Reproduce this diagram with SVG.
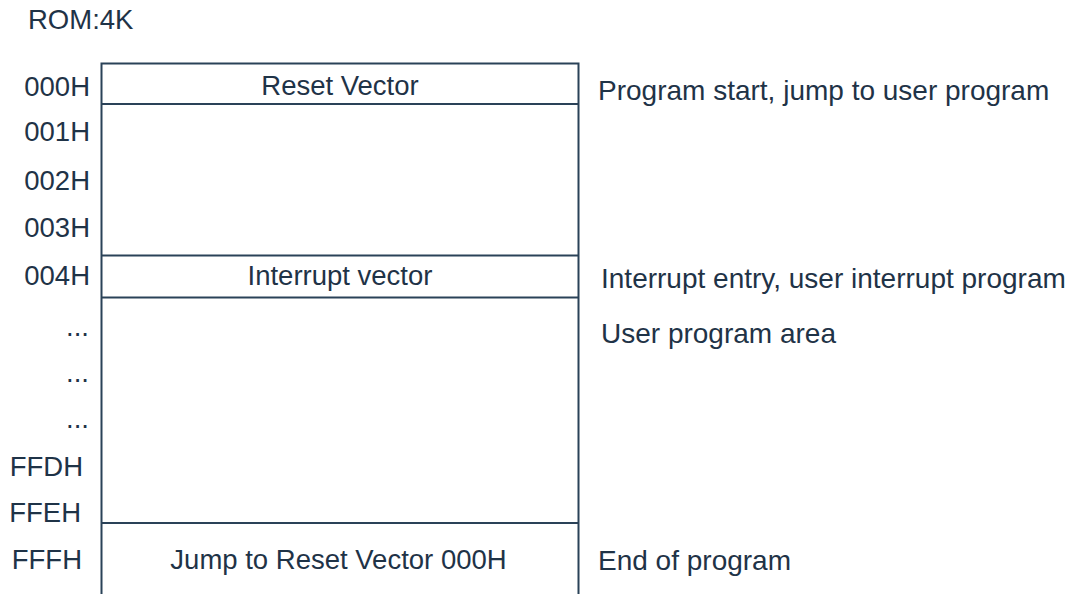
<svg xmlns="http://www.w3.org/2000/svg" width="1079" height="594" viewBox="0 0 1079 594">
<style>
text{font-family:"Liberation Sans",Arial,sans-serif;fill:#1f3347;font-size:27.5px}
.a{text-anchor:end}
.m{text-anchor:middle}
.n{font-size:28px}
.ln{stroke:#2a4258;stroke-width:2;fill:none}
</style>
<rect width="1079" height="594" fill="#fff"/>
<text x="28" y="29" style="font-size:27.5px">ROM:4K</text>
<g id="connectors">
<path class="ln" d="M101.5 594 V63.5 H578.5 V594"/>
<path class="ln" d="M101.5 104 H578.5 M101.5 255.5 H578.5 M101.5 297.5 H578.5 M101.5 523 H578.5"/>
</g>
<g id="addresses">
<text class="a" x="90" y="95.5">000H</text>
<text class="a" x="90" y="140.5">001H</text>
<text class="a" x="90" y="190">002H</text>
<text class="a" x="90" y="237">003H</text>
<text class="a" x="90" y="285">004H</text>
<text class="a" x="89" y="336">...</text>
<text class="a" x="89" y="382">...</text>
<text class="a" x="89" y="428">...</text>
<text class="a" x="83" y="476">FFDH</text>
<text class="a" x="81" y="522">FFEH</text>
<text class="a" x="82" y="569">FFFH</text>
</g>
<g id="reset"><text class="m" x="340" y="95">Reset Vector</text></g>
<g id="interrupt"><text class="m" x="340" y="285">Interrupt vector</text></g>
<g id="jump"><text class="m" x="338.5" y="569">Jump to Reset Vector 000H</text></g>
<g id="notes">
<text class="n" x="598" y="100">Program start, jump to user program</text>
<text class="n" x="601" y="288">Interrupt entry, user interrupt program</text>
<text class="n" x="601" y="343">User program area</text>
<text class="n" x="598" y="570">End of program</text>
</g>
</svg>
